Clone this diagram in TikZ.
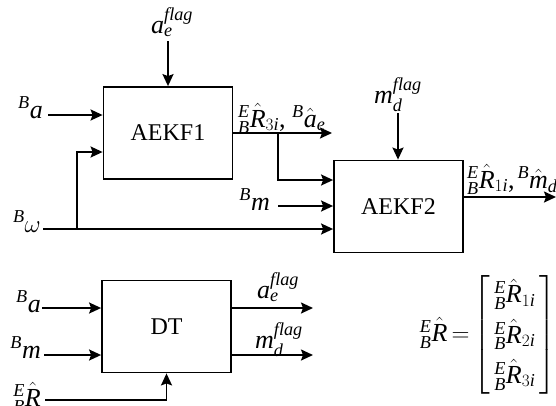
\documentclass[tikz,border=0pt]{standalone}
\usepackage{amsmath}
\usepackage{fontspec}
\setmainfont{Liberation Serif}
\usetikzlibrary{arrows.meta}
\newcommand\mv[1]{\textit{#1}}
\begin{document}
\begin{tikzpicture}[x=1pt,y=-1pt,
  blk/.style={draw,line width=1.8pt,minimum width=129pt,minimum height=92pt,inner sep=0pt,font=\fontsize{24}{28}\selectfont},
  wire/.style={line width=1.8pt},
  arr/.style={wire,-{Stealth[length=12pt,width=11pt,inset=2pt]}},
  lbl/.style={inner sep=0pt,font=\fontsize{26}{30}\selectfont}]
\useasboundingbox (0,0) rectangle (556,405);

% blocks
\node[blk] (k1) at (168,133) {AEKF1};
\node[blk] (k2) at (398.5,206.5) {AEKF2};
\node[blk] (dt) at (166.5,326.5) {DT};

% labels
\node[lbl,anchor=base west] (aflag1) at (151,33) {$\mv{a}_{\mv{e}}^{\mv{flag}}$};
\node[lbl,anchor=base east] (ba1) at (43,118) {${}^{\mv{B}}\mv{a}$};
\node[lbl,anchor=base east] (bw) at (41,232) {${}^{\mv{B}}\omega$};
\node[lbl,anchor=base west] (out1) at (238,127) {${}^{\mv{E}}_{\mv{B}}\hat{\mv{R}}_{3\mv{i}}$, ${}^{\mv{B}}\hat{\mv{a}}_{\mv{e}}$};
\node[lbl,anchor=base west] (mflag1) at (374,103) {$\mv{m}_{\mv{d}}^{\mv{flag}}$};
\node[lbl,anchor=base east] (bm1) at (270,210) {${}^{\mv{B}}\mv{m}$};
\node[lbl,anchor=base west] (out2) at (467,188) {${}^{\mv{E}}_{\mv{B}}\hat{\mv{R}}_{1\mv{i}}$,${}^{\,\mv{B}}\hat{\mv{m}}_{\mv{d}}$};

\node[lbl,anchor=base east] (ba2) at (41,312) {${}^{\mv{B}}\mv{a}$};
\node[lbl,anchor=base east] (bm2) at (41,358) {${}^{\mv{B}}\mv{m}$};
\node[lbl,anchor=base east] (br) at (41,406) {${}^{\mv{E}}_{\mv{B}}\hat{\mv{R}}$};
\node[lbl,anchor=base west] (aflag2) at (257,298) {$\mv{a}_{\mv{e}}^{\mv{flag}}$};
\node[lbl,anchor=base west] (mflag2) at (255,348) {$\mv{m}_{\mv{d}}^{\mv{flag}}$};

\node[lbl] (mat) at (488,335) {$\renewcommand\arraystretch{1.34}{}^{\mv{E}}_{\mv{B}}\hat{\mv{R}}\,{=}\left[\begin{array}{@{\,}c@{\,}}
{}^{\mv{E}}_{\mv{B}}\hat{\mv{R}}_{1\mv{i}}\\
{}^{\mv{E}}_{\mv{B}}\hat{\mv{R}}_{2\mv{i}}\\
{}^{\mv{E}}_{\mv{B}}\hat{\mv{R}}_{3\mv{i}}
\end{array}\right]$};

% connector end points
\coordinate (c_af) at (168,41);
\coordinate (c_ba1) at (48,115);
\coordinate (c_w) at (43,229);
\coordinate (c_wb) at (77,229);
\coordinate (c_o1) at (332,133);
\coordinate (c_br1) at (278,133);
\coordinate (c_mf) at (398,113);
\coordinate (c_bm1) at (278,206);
\coordinate (c_o2) at (556,197);
\coordinate (c_ba2) at (42,308);
\coordinate (c_bm2) at (44,355);
\coordinate (c_br) at (45,400);
\coordinate (c_do1) at (313,308);
\coordinate (c_do2) at (313,355);

% AEKF1
\draw[arr] (c_af) -- (c_af |- k1.north);
\draw[arr] (c_ba1) -- (c_ba1 -| k1.west);
\draw[arr] (c_wb) |- (k1.west |- 0,152);
\draw[arr] (k1.east |- c_o1) -- (c_o1);

% AEKF2
\draw[arr] (c_w) -- (c_w -| k2.west);
\draw[arr] (c_br1) |- (k2.west |- 0,180);
\draw[arr] (c_bm1) -- (c_bm1 -| k2.west);
\draw[arr] (c_mf) -- (c_mf |- k2.north);
\draw[arr] (k2.east |- c_o2) -- (c_o2);

% DT
\draw[arr] (c_ba2) -- (c_ba2 -| dt.west);
\draw[arr] (c_bm2) -- (c_bm2 -| dt.west);
\draw[arr] (c_br) -| (dt.south);
\draw[arr] (dt.east |- c_do1) -- (c_do1);
\draw[arr] (dt.east |- c_do2) -- (c_do2);
\end{tikzpicture}
\end{document}
